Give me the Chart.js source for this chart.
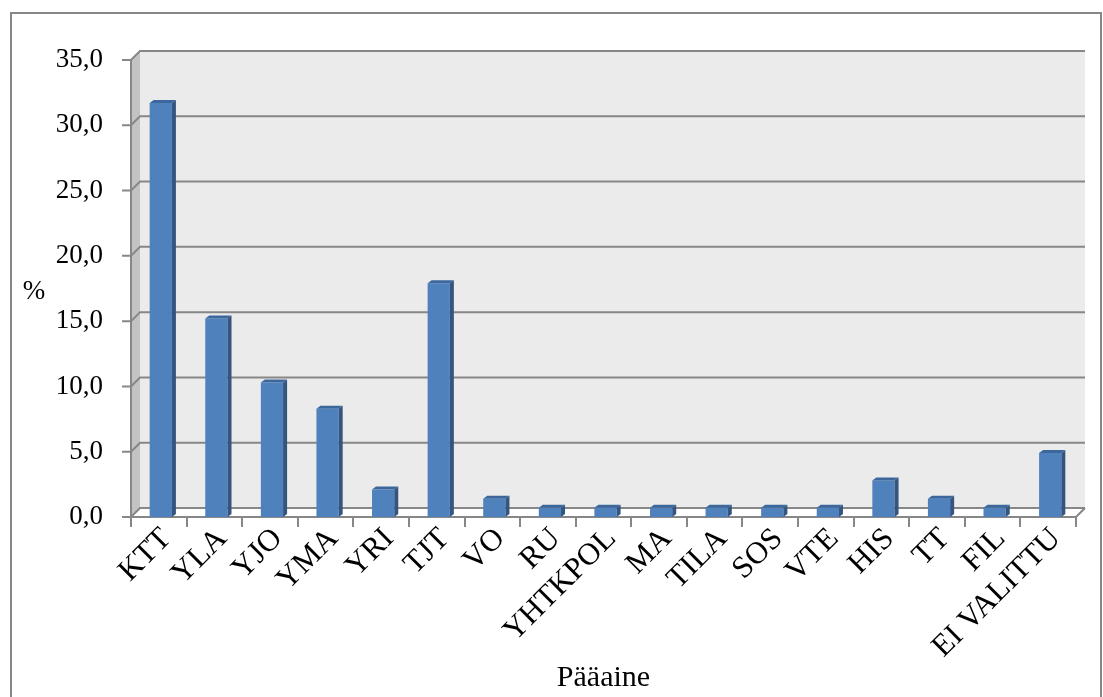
<!DOCTYPE html>
<html>
<head>
<meta charset="utf-8">
<script src="https://cdn.jsdelivr.net/npm/chart.js@4.4.0/dist/chart.umd.min.js"></script>
<style>
  html, body { margin: 0; padding: 0; background: #ffffff; }
  canvas { display: block; }
</style>
</head>
<body>
<canvas id="chart" width="1103" height="697"></canvas>
<script>
// Pääaineiden jakauma (%)
const categories = ['KTT', 'YLA', 'YJO', 'YMA', 'YRI', 'TJT', 'VO', 'RU', 'YHTKPOL', 'MA', 'TILA', 'SOS', 'VTE', 'HIS', 'TT', 'FIL', 'EI VALITTU'];
const shares = [31.7, 15.2, 10.3, 8.3, 2.1, 17.9, 1.4, 0.7, 0.7, 0.7, 0.7, 0.7, 0.7, 2.8, 1.4, 0.7, 4.9];
const yTicks = [0, 5, 10, 15, 20, 25, 30, 35];
const yAxisTitle = '%';
const xAxisTitle = 'Pääaine';

const FONT = '"Palatino Linotype", "Book Antiqua", Palatino, "Liberation Serif", serif';
const GRID = '#878787';
const WALL_DX = 9, WALL_DY = 9;   // depth of the walls
const BAR_DX = 4, BAR_DY = 3;     // depth of each column
const BAR_SHIFT = 2;              // columns stand slightly behind the front edge

function fmt(v) { return v.toFixed(1).replace('.', ','); }

const scene3d = {
  id: 'scene3d',
  beforeDraw(chart) {
    const ctx = chart.ctx;
    ctx.save();
    ctx.fillStyle = '#ffffff';
    ctx.fillRect(0, 0, chart.width, chart.height);
    // outer frame
    ctx.strokeStyle = GRID;
    ctx.lineWidth = 2;
    ctx.strokeRect(11, 13, 1090, 720);
    ctx.restore();
  },
  beforeDatasetsDraw(chart) {
    const ctx = chart.ctx;
    const ys = chart.scales.y;
    const { left: L, right: R, top: T, bottom: B } = chart.chartArea;
    ctx.save();
    // back wall
    ctx.fillStyle = '#EBEBEB';
    ctx.fillRect(L + WALL_DX, T - WALL_DY, R - L, B - T);
    // side wall
    ctx.fillStyle = '#C3C3C3';
    ctx.beginPath();
    ctx.moveTo(L, T); ctx.lineTo(L + WALL_DX, T - WALL_DY);
    ctx.lineTo(L + WALL_DX, B - WALL_DY); ctx.lineTo(L, B);
    ctx.closePath(); ctx.fill();
    // floor
    ctx.fillStyle = '#ffffff';
    ctx.beginPath();
    ctx.moveTo(L, B); ctx.lineTo(R, B);
    ctx.lineTo(R + WALL_DX, B - WALL_DY); ctx.lineTo(L + WALL_DX, B - WALL_DY);
    ctx.closePath(); ctx.fill();

    ctx.strokeStyle = GRID;
    ctx.lineWidth = 2;
    ctx.lineJoin = 'miter';
    // gridlines with their side-wall legs and front ticks
    yTicks.forEach(v => {
      const y = ys.getPixelForValue(v);
      ctx.beginPath();
      ctx.moveTo(L - 9, y); ctx.lineTo(L, y);
      ctx.lineTo(L + WALL_DX, y - WALL_DY);
      ctx.lineTo(R + WALL_DX, y - WALL_DY);
      ctx.stroke();
    });
    // front value axis
    ctx.beginPath();
    ctx.moveTo(L, T); ctx.lineTo(L, B);
    ctx.stroke();
    // front floor edge
    ctx.beginPath();
    ctx.moveTo(L, B); ctx.lineTo(R, B); ctx.lineTo(R + WALL_DX, B - WALL_DY);
    ctx.stroke();
    // category ticks
    const n = categories.length;
    for (let i = 0; i <= n; i++) {
      const x = Math.round(L + i * (R - L) / n);
      ctx.beginPath();
      ctx.moveTo(x, B); ctx.lineTo(x, B + 10);
      ctx.stroke();
    }
    ctx.restore();
    // move the columns a little into the depth
    ctx.save();
    ctx.translate(BAR_SHIFT, 0);
  },
  afterDatasetsDraw(chart) {
    const ctx = chart.ctx;
    ctx.restore();
    const meta = chart.getDatasetMeta(0);
    ctx.save();
    ctx.translate(BAR_SHIFT, 0);
    meta.data.forEach(bar => {
      const { x, y, base, width } = bar.getProps(['x', 'y', 'base', 'width'], true);
      const l = x - width / 2, r = x + width / 2;
      // top face
      ctx.fillStyle = '#3C679C';
      ctx.beginPath();
      ctx.moveTo(l, y); ctx.lineTo(r, y);
      ctx.lineTo(r + BAR_DX, y - BAR_DY); ctx.lineTo(l + BAR_DX, y - BAR_DY);
      ctx.closePath(); ctx.fill();
      // side face
      ctx.fillStyle = '#33557F';
      ctx.beginPath();
      ctx.moveTo(r, y); ctx.lineTo(r + BAR_DX, y - BAR_DY);
      ctx.lineTo(r + BAR_DX, base - BAR_DY); ctx.lineTo(r, base);
      ctx.closePath(); ctx.fill();
    });
    ctx.restore();
  },
  afterDraw(chart) {
    const ctx = chart.ctx;
    const xs = chart.scales.x;
    const B = chart.chartArea.bottom;
    ctx.save();
    ctx.fillStyle = '#000000';
    ctx.font = '27px ' + FONT;
    ctx.textAlign = 'center';
    ctx.textBaseline = 'middle';
    ctx.fillText(yAxisTitle, 34, 292);
    // slanted category labels, their upper end just under each tick
    ctx.font = '31px ' + FONT;
    ctx.textAlign = 'right';
    ctx.textBaseline = 'top';
    chart.data.labels.forEach((lab, i) => {
      const x = xs.getPixelForTick(i);
      ctx.save();
      ctx.translate(x - 3, B + 6);
      ctx.rotate(-Math.PI / 4);
      ctx.fillText(lab, 0, 0);
      ctx.restore();
    });
    ctx.restore();
  }
};

new Chart(document.getElementById('chart'), {
  type: 'bar',
  data: {
    labels: categories,
    datasets: [{
      data: shares,
      backgroundColor: '#4F81BD',
      borderWidth: 0,
      barPercentage: 0.4,
      categoryPercentage: 1.0
    }]
  },
  options: {
    responsive: false,
    animation: false,
    devicePixelRatio: 1,
    layout: { padding: { left: 0, top: 60, right: 27, bottom: 0 } },
    plugins: { legend: { display: false }, tooltip: { enabled: false } },
    scales: {
      x: {
        grid: { display: false, drawTicks: false },
        border: { display: false },
        ticks: { display: false, autoSkip: false },
        title: {
          display: true, text: xAxisTitle, color: '#000000',
          font: { family: FONT, size: 30 }, padding: { top: 4, bottom: 1 }
        },
        afterFit(scale) { scale.height = 180; }
      },
      y: {
        min: 0, max: 35,
        grid: { display: false, drawTicks: false },
        border: { display: false },
        ticks: {
          stepSize: 5,
          color: '#000000',
          font: { family: FONT, size: 27 },
          padding: 28,
          callback: v => fmt(v)
        },
        afterFit(scale) { scale.width = 131; }
      }
    }
  },
  plugins: [scene3d]
});
</script>
</body>
</html>
